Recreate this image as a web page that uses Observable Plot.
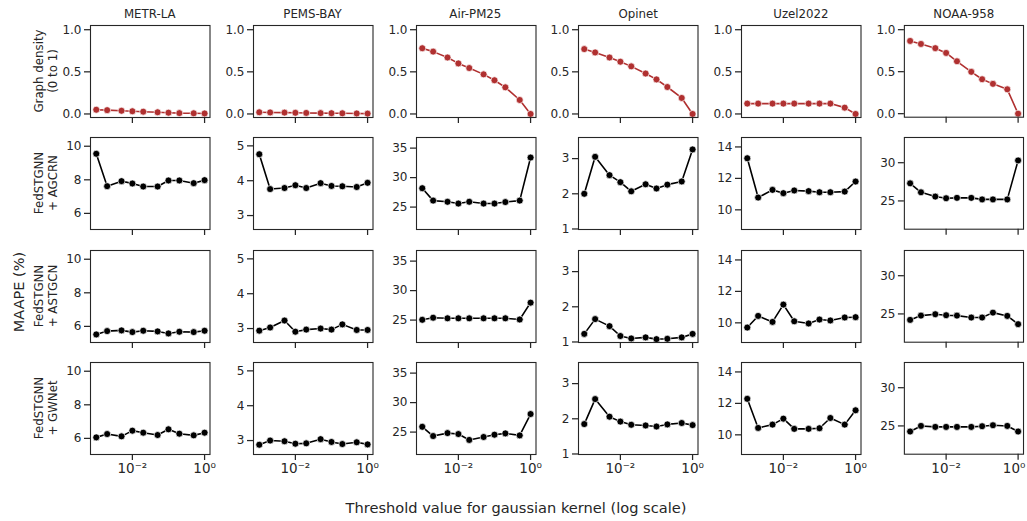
<!DOCTYPE html>
<html><head><meta charset="utf-8">
<script src="https://cdn.jsdelivr.net/npm/d3@7"></script>
<script src="https://cdn.jsdelivr.net/npm/@observablehq/plot@0.6"></script>
<style>
body{margin:0;background:#fff;}
#root{position:relative;width:1027px;height:521px;font-family:"DejaVu Sans",sans-serif;color:#262626;overflow:hidden;background:#fff}
.lbl{position:absolute;white-space:nowrap;line-height:1;}
.panel{position:absolute;}
.panel svg{overflow:visible;background:transparent}
</style></head><body><div id="root"></div>
<script>
// ---------- data ----------
const thresholds = [0.001, 0.002, 0.005, 0.01, 0.02, 0.05, 0.1, 0.2, 0.5, 1];
const datasets = ["METR-LA", "PEMS-BAY", "Air-PM25", "Opinet", "Uzel2022", "NOAA-958"];
const rowLabels = [["Graph density", "(0 to 1)"], ["FedSTGNN", "+ AGCRN"], ["FedSTGNN", "+ ASTGCN"], ["FedSTGNN", "+ GWNet"]];

const density = [
  [0.05, 0.045, 0.038, 0.032, 0.027, 0.02, 0.015, 0.01, 0.008, 0.006],
  [0.02, 0.018, 0.016, 0.014, 0.012, 0.01, 0.009, 0.008, 0.006, 0.004],
  [0.78, 0.74, 0.67, 0.60, 0.545, 0.47, 0.40, 0.316, 0.166, 0.0],
  [0.77, 0.73, 0.67, 0.62, 0.565, 0.48, 0.41, 0.32, 0.19, 0.0],
  [0.123, 0.123, 0.123, 0.123, 0.123, 0.123, 0.123, 0.123, 0.075, 0.0],
  [0.866, 0.83, 0.78, 0.723, 0.624, 0.498, 0.41, 0.355, 0.29, 0.0]
];
const agcrn = [
  [9.55, 7.62, 7.92, 7.78, 7.6, 7.6, 7.96, 7.96, 7.8, 7.98],
  [4.76, 3.76, 3.79, 3.87, 3.79, 3.93, 3.85, 3.84, 3.82, 3.94],
  [28.2, 26.1, 25.9, 25.6, 25.9, 25.6, 25.6, 25.85, 26.1, 33.4],
  [2.0, 3.05, 2.53, 2.33, 2.07, 2.27, 2.15, 2.26, 2.35, 3.26],
  [13.28, 10.78, 11.27, 11.06, 11.23, 11.19, 11.12, 11.12, 11.16, 11.8],
  [27.3, 26.13, 25.57, 25.35, 25.4, 25.4, 25.2, 25.2, 25.2, 30.3]
];
const astgcn = [
  [5.52, 5.72, 5.76, 5.66, 5.74, 5.7, 5.58, 5.68, 5.66, 5.74],
  [2.94, 3.03, 3.23, 2.91, 2.97, 3.0, 2.97, 3.12, 2.96, 2.96],
  [25.05, 25.4, 25.3, 25.3, 25.3, 25.3, 25.3, 25.3, 25.1, 27.96],
  [1.23, 1.65, 1.45, 1.17, 1.1, 1.13, 1.08, 1.09, 1.13, 1.23],
  [9.7, 10.44, 10.06, 11.16, 10.1, 9.96, 10.21, 10.15, 10.34, 10.36],
  [24.22, 24.78, 24.96, 24.83, 24.78, 24.53, 24.53, 25.17, 24.74, 23.66]
];
const gwnet = [
  [6.06, 6.26, 6.12, 6.46, 6.34, 6.2, 6.54, 6.28, 6.18, 6.34],
  [2.88, 3.0, 2.98, 2.91, 2.92, 3.04, 2.96, 2.9, 2.95, 2.89],
  [25.9, 24.33, 24.83, 24.67, 23.67, 24.17, 24.56, 24.78, 24.44, 28.06],
  [1.85, 2.56, 2.06, 1.92, 1.83, 1.81, 1.78, 1.84, 1.88, 1.82],
  [12.29, 10.44, 10.65, 11.03, 10.38, 10.38, 10.42, 11.07, 10.65, 11.56],
  [24.27, 25.0, 24.87, 24.87, 24.87, 24.87, 24.96, 25.09, 25.0, 24.27]
];

const densityTicks = [0, 0.5, 1];
const maapeTicks = [[6, 8, 10], [3, 4, 5], [25, 30, 35], [1, 2, 3], [10, 12, 14], [25, 30]];
const xTicks = [0.01, 1];
const xTickLabels = ["10\u207B\u00B2", "10\u2070"];
const yLabel = "MAAPE (%)";
const xLabel = "Threshold value for gaussian kernel (log scale)";

// ---------- layout / style ----------
const root = document.getElementById("root");
const frameLeft0 = 90, colStep = 162.8, frameW = 119.5;
const frameTop0 = 25, rowStep = 112.45, frameH = 92;
const mL = 40, mR = 4, mT = 4, mB = 26;
const densityDomain = [-0.042, 1.05];
const maapeDomains = [[5.04, 10.52], [2.6, 5.24], [21.2, 36.8], [0.985, 3.6], [8.75, 14.6], [21.3, 33.3]];
const xDomain = [Math.pow(10, -3.16), Math.pow(10, 0.15)];
const ink = "#262626";
const red = "#b03030";

const rows = [density, agcrn, astgcn, gwnet];

rows.forEach((series, r) => {
  datasets.forEach((name, c) => {
    const data = thresholds.map((t, i) => ({t, v: series[c][i]}));
    const color = r === 0 ? red : "#000";
    const yTicks = r === 0 ? densityTicks : maapeTicks[c];
    const yFmt = r === 0 ? (d => d.toFixed(1)) : (d => String(d));
    const lastCol = c === datasets.length - 1;
    const xAxisMarks = r === 3
      ? [
          Plot.axisX({ticks: xTicks, tickFormat: () => "", tickSize: 6, label: null, stroke: ink, strokeWidth: 1.25}),
          Plot.axisX({ticks: [xTicks[0]], tickFormat: () => xTickLabels[0], tickSize: 6, tickPadding: 3, label: null, stroke: "none", fill: ink, fontSize: 13.5}),
          Plot.axisX({ticks: [xTicks[1]], tickFormat: () => xTickLabels[1], tickSize: 6, tickPadding: 3, label: null, stroke: "none", fill: ink, fontSize: 13.5, dx: lastCol ? -4 : 0})
        ]
      : [Plot.axisX({ticks: xTicks, tickFormat: () => "", tickSize: 6, label: null, stroke: ink, strokeWidth: 1.25})];
    const chart = Plot.plot({
      width: mL + frameW + mR,
      height: mT + frameH + mB,
      marginLeft: mL, marginRight: mR, marginTop: mT, marginBottom: mB,
      style: {fontFamily: "DejaVu Sans, sans-serif", fontSize: "12px", color: ink, background: "transparent", overflow: "visible"},
      x: {type: "log", domain: xDomain},
      y: {domain: r === 0 ? densityDomain : maapeDomains[c]},
      marks: [
        Plot.axisY({ticks: yTicks, tickFormat: yFmt, tickSize: 6, tickPadding: 3, label: null, stroke: ink, strokeWidth: 1.25, fill: ink, fontSize: 12}),
        ...xAxisMarks,
        Plot.line(data, {x: "t", y: "v", stroke: color, strokeWidth: 1.6}),
        Plot.dot(data, {x: "t", y: "v", fill: color, stroke: "white", strokeWidth: 0.7, r: 3.5}),
        Plot.frame({stroke: ink, strokeWidth: 1.1})
      ]
    });
    const wrap = document.createElement("div");
    wrap.className = "panel";
    wrap.style.left = (frameLeft0 + c * colStep - mL) + "px";
    wrap.style.top = (frameTop0 + r * rowStep - mT) + "px";
    wrap.appendChild(chart);
    root.appendChild(wrap);
  });
});

function addLabel(html, x, y, size, rotate) {
  const d = document.createElement("div");
  d.className = "lbl";
  d.innerHTML = html;
  d.style.left = x + "px";
  d.style.top = y + "px";
  d.style.fontSize = size + "px";
  d.style.textAlign = "center";
  d.style.transform = "translate(-50%,-50%)" + (rotate ? " rotate(-90deg)" : "");
  root.appendChild(d);
  return d;
}

// column titles
datasets.forEach((name, c) => addLabel(name, frameLeft0 + c * colStep + frameW / 2, 15, 11.8, false));
// row labels
rowLabels.forEach((lines, r) => {
  const d = addLabel(lines.join("<br>"), 46, frameTop0 + r * rowStep + frameH / 2, 11.8, true);
  d.style.lineHeight = "14px";
});
addLabel(yLabel, 19, 292, 14.5, true);
addLabel(xLabel, 516, 508, 14.6, false);
</script></body></html>
